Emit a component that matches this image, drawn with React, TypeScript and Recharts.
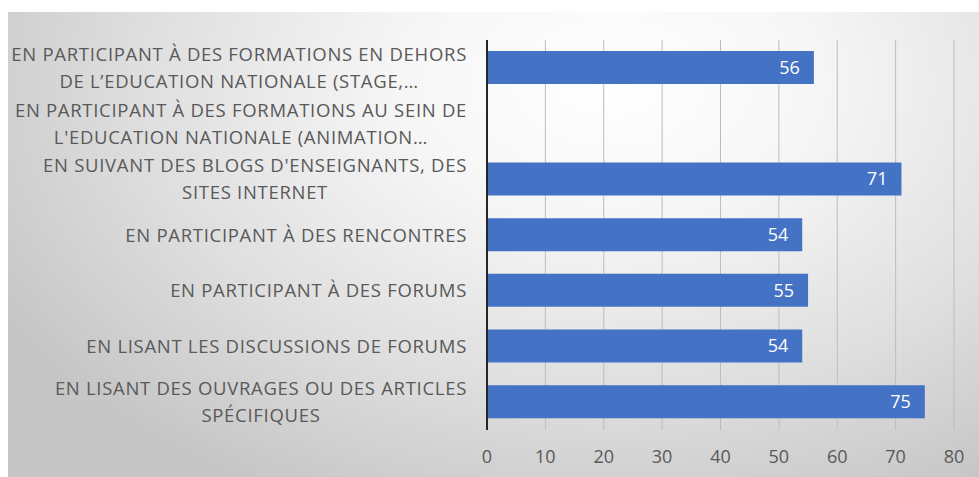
import React from 'react'
import { BarChart, Bar, XAxis, YAxis, CartesianGrid, LabelList } from 'recharts'

// categories, top to bottom, line breaks as wrapped in the reference
const categories = [
  'EN PARTICIPANT À DES FORMATIONS EN DEHORS\nDE L’EDUCATION NATIONALE (STAGE,…',
  'EN PARTICIPANT À DES FORMATIONS AU SEIN DE\nL\'EDUCATION NATIONALE (ANIMATION…',
  'EN SUIVANT DES BLOGS D\'ENSEIGNANTS, DES\nSITES INTERNET',
  'EN PARTICIPANT À DES RENCONTRES',
  'EN PARTICIPANT À DES FORUMS',
  'EN LISANT LES DISCUSSIONS DE FORUMS',
  'EN LISANT DES OUVRAGES OU DES ARTICLES\nSPÉCIFIQUES',
]

const values: (number | null)[] = [56, null, 71, 54, 55, 54, 75]

const xTicks = [0, 10, 20, 30, 40, 50, 60, 70, 80]

const data = categories.map((name, i) => ({ name, value: values[i] }))

const FONT = '"Open Sans", "Liberation Sans", sans-serif'
const FONT_SIZE = 18.5
const SPACING = 0.7
const TEXT_COLOR = '#595959'

let measureCtx: CanvasRenderingContext2D | null = null
function textWidth(s: string) {
  if (!measureCtx) {
    measureCtx = document.createElement('canvas').getContext('2d')
  }
  if (!measureCtx) return s.length * FONT_SIZE * 0.6
  measureCtx.font = `${FONT_SIZE}px ${FONT}`
  return measureCtx.measureText(s).width + s.length * SPACING
}

function CategoryTick(props: any) {
  const { x, y, payload } = props
  const lines: string[] = String(payload.value).split('\n')
  const lineHeight = 27
  const right = x - 20
  const blockW = Math.max(...lines.map(textWidth))
  const cx = right - blockW / 2
  const top = y - ((lines.length - 1) * lineHeight) / 2
  return (
    <g>
      {lines.map((line, i) => (
        <text
          key={i}
          x={cx}
          y={top + i * lineHeight}
          dy="0.36em"
          textAnchor="middle"
          fill={TEXT_COLOR}
          fontSize={FONT_SIZE}
          fontFamily={FONT}
          letterSpacing={SPACING}
        >
          {line}
        </text>
      ))}
    </g>
  )
}

function ValueTick(props: any) {
  const { x, y, payload } = props
  return (
    <text x={x} y={y + 27} dy="0.36em" textAnchor="middle" fill={TEXT_COLOR} fontSize={18} fontFamily={FONT}>
      {payload.value}
    </text>
  )
}

export default function App() {
  return (
    <div
      style={{
        position: 'absolute',
        left: 8,
        top: 12,
        width: 971,
        height: 465,
        background:
          'radial-gradient(ellipse 72% 100% at 62% 15%, #ffffff 0%, #f6f6f6 30%, #dedede 68%, #c6c6c6 100%)',
      }}
    >
      <BarChart
        width={971}
        height={465}
        data={data}
        layout="vertical"
        margin={{ top: 28, right: 25, bottom: 0, left: 0 }}
        barSize={33}
      >
        <CartesianGrid horizontal={false} vertical stroke="#bdbdbd" strokeWidth={1} />
        <XAxis
          type="number"
          domain={[0, 80]}
          ticks={xTicks}
          interval={0}
          axisLine={false}
          tickLine={false}
          tickSize={0}
          tickMargin={0}
          height={47}
          tick={<ValueTick />}
        />
        <YAxis
          type="category"
          dataKey="name"
          width={479}
          axisLine={{ stroke: '#262626', strokeWidth: 2 }}
          tickLine={false}
          tickSize={0}
          tickMargin={0}
          interval={0}
          tick={<CategoryTick />}
        />
        <Bar dataKey="value" fill="#4472C4" isAnimationActive={false}>
          <LabelList
            dataKey="value"
            position="insideRight"
            offset={14}
            fill="#ffffff"
            fontSize={18}
            fontFamily={FONT}
          />
        </Bar>
      </BarChart>
    </div>
  )
}
